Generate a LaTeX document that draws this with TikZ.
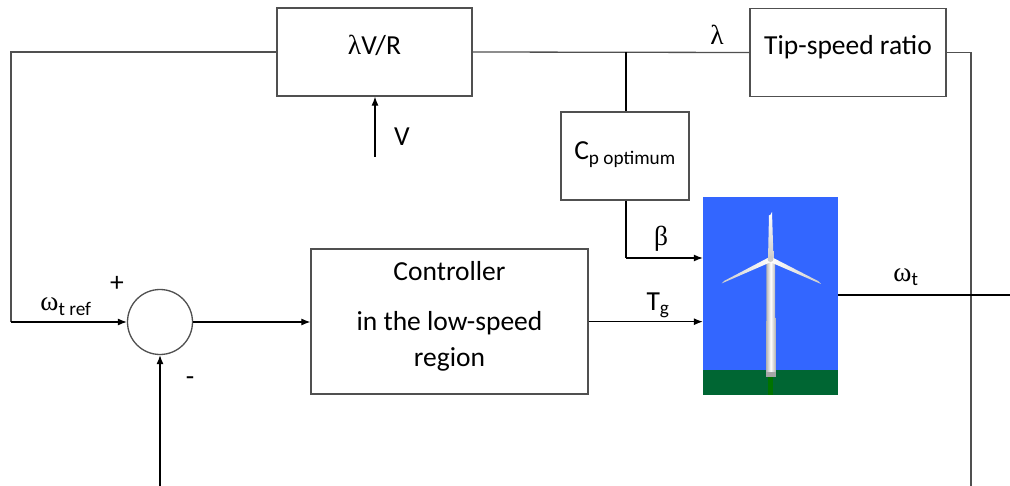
\documentclass[tikz,border=0pt]{standalone}
\usepackage{fontspec}
\setmainfont{Carlito}
\newfontfamily\grk{Liberation Serif}
\usetikzlibrary{arrows.meta}
\definecolor{sky}{HTML}{3366FF}
\definecolor{grass}{HTML}{006633}
\definecolor{edge}{HTML}{505050}
\begin{document}
\begin{tikzpicture}[x=1pt,y=-1pt,
  box/.style={draw=edge,line width=1.3pt,rectangle,inner sep=0pt},
  wire/.style={draw=edge,line width=1.3pt},
  arr/.style={draw=black,line width=1.1pt,-{Latex[length=9pt,width=7pt]}},
  txt/.style={inner sep=0pt,anchor=base,font=\fontsize{27.5}{32}\selectfont},
  lbl/.style={inner sep=0pt,anchor=base,font=\fontsize{27.5}{32}\selectfont}]
\useasboundingbox (0,0) rectangle (1010,486);
% blocks
\node[box,minimum width=195pt,minimum height=88pt] (lvr) at (374.5,52) {};
\node[box,minimum width=196pt,minimum height=88pt] (tsr) at (848,52.5) {};
\node[box,minimum width=128pt,minimum height=88pt] (cp) at (625,156) {};
\node[box,minimum width=277pt,minimum height=145pt] (ctl) at (449.5,321.5) {};
\node[draw=edge,line width=1.3pt,circle,minimum size=65pt,inner sep=0pt] (sum) at (160,322) {};
\node[rectangle,fill=sky,minimum width=135pt,minimum height=198pt,inner sep=0pt] (wt) at (770.5,296) {};
% texts
\node[txt] (tlvr) at (374.5,54.5) {{\grk λ}V/R};
\node[txt] (ttsr) at (848,54.5) {Tip-speed ratio};
\node[txt] (tcp) at (625,159.5) {C\textsubscript{p optimum}};
\node[txt] (tc1) at (449.5,280.7) {Controller};
\node[txt] (tc2) at (449.5,330.7) {in the low-speed};
\node[txt] (tc3) at (449.5,366.7) {region};
% turbine picture
\fill[grass] (703,370) rectangle (838,395);
\fill[green!45!black] (768,377) rectangle (773,395);
\shade[left color=gray!60,right color=gray!60,middle color=white] (766.5,262) -- (775,262) -- (775.5,377) -- (766,377) -- cycle;
\fill[gray!70] (766,372) rectangle (775.5,377);
\coordinate (hub) at (770.5,259);
\shade[top color=white,bottom color=gray!40] (hub) ++(-2.5,0) -- (769,215) to[out=-80,in=-100] (772,212) -- (773.5,259) -- cycle;
\shade[left color=gray!40,right color=white] (hub) ++(0,-2.5) -- (724,281) -- (721.5,283.5) -- (771,262) -- cycle;
\shade[left color=white,right color=gray!40] (hub) ++(0,-2.5) -- (818,281) -- (821,284) -- (770,262) -- cycle;
\fill[gray!40] (hub) circle (3pt);
% connectors
\coordinate (lt) at (11,52);
\coordinate (lb) at (11,322);
\draw[wire] (lvr.west) -- (lt) -- (lb);
\draw[arr] (lb) -- (sum.west);
\draw[wire] (lvr.east) -- (tsr.west);
\coordinate (jn) at (626,52);
\draw[wire,line width=1.1pt,draw=black] (jn) -- (cp.north -| jn);
\coordinate (vb) at (375,157);
\draw[arr] (vb) -- (lvr.south -| vb);
\coordinate (cpd) at (626,258);
\draw[line width=1.1pt] (cp.south -| cpd) -- (cpd);
\draw[arr] (cpd) -- (cpd -| wt.west);
\coordinate (tgy) at (600,321.7);
\draw[arr] (ctl.east |- tgy) -- (wt.west |- tgy);
\draw[arr] (sum.east) -- (ctl.west |- sum.east);
\coordinate (sb) at (160,486);
\draw[arr] (sb) -- (sum.south);
\coordinate (rt) at (971,52.5);
\coordinate (rb) at (971,486);
\draw[wire] (tsr.east) -- (rt) -- (rb);
\coordinate (out) at (1010,295);
\draw[line width=1.1pt] (wt.east |- out) -- (out);
% labels
\node[lbl] (lv) at (402,146) {V};
\node[lbl] (llam) at (717,45) {\grk λ};
\node[lbl] (lbeta) at (661,246) {\grk β};
\node[lbl] (ltg) at (658,311) {T\textsubscript{g}};
\node[lbl] (lw) at (906,282) {{\grk ω}\textsubscript{t}};
\node[lbl] (lwr) at (66,311) {{\grk ω}\textsubscript{t ref}};
\node[lbl] (lp) at (117,292) {+};
\node[lbl] (lm) at (190,385) {-};
\end{tikzpicture}
\end{document}
